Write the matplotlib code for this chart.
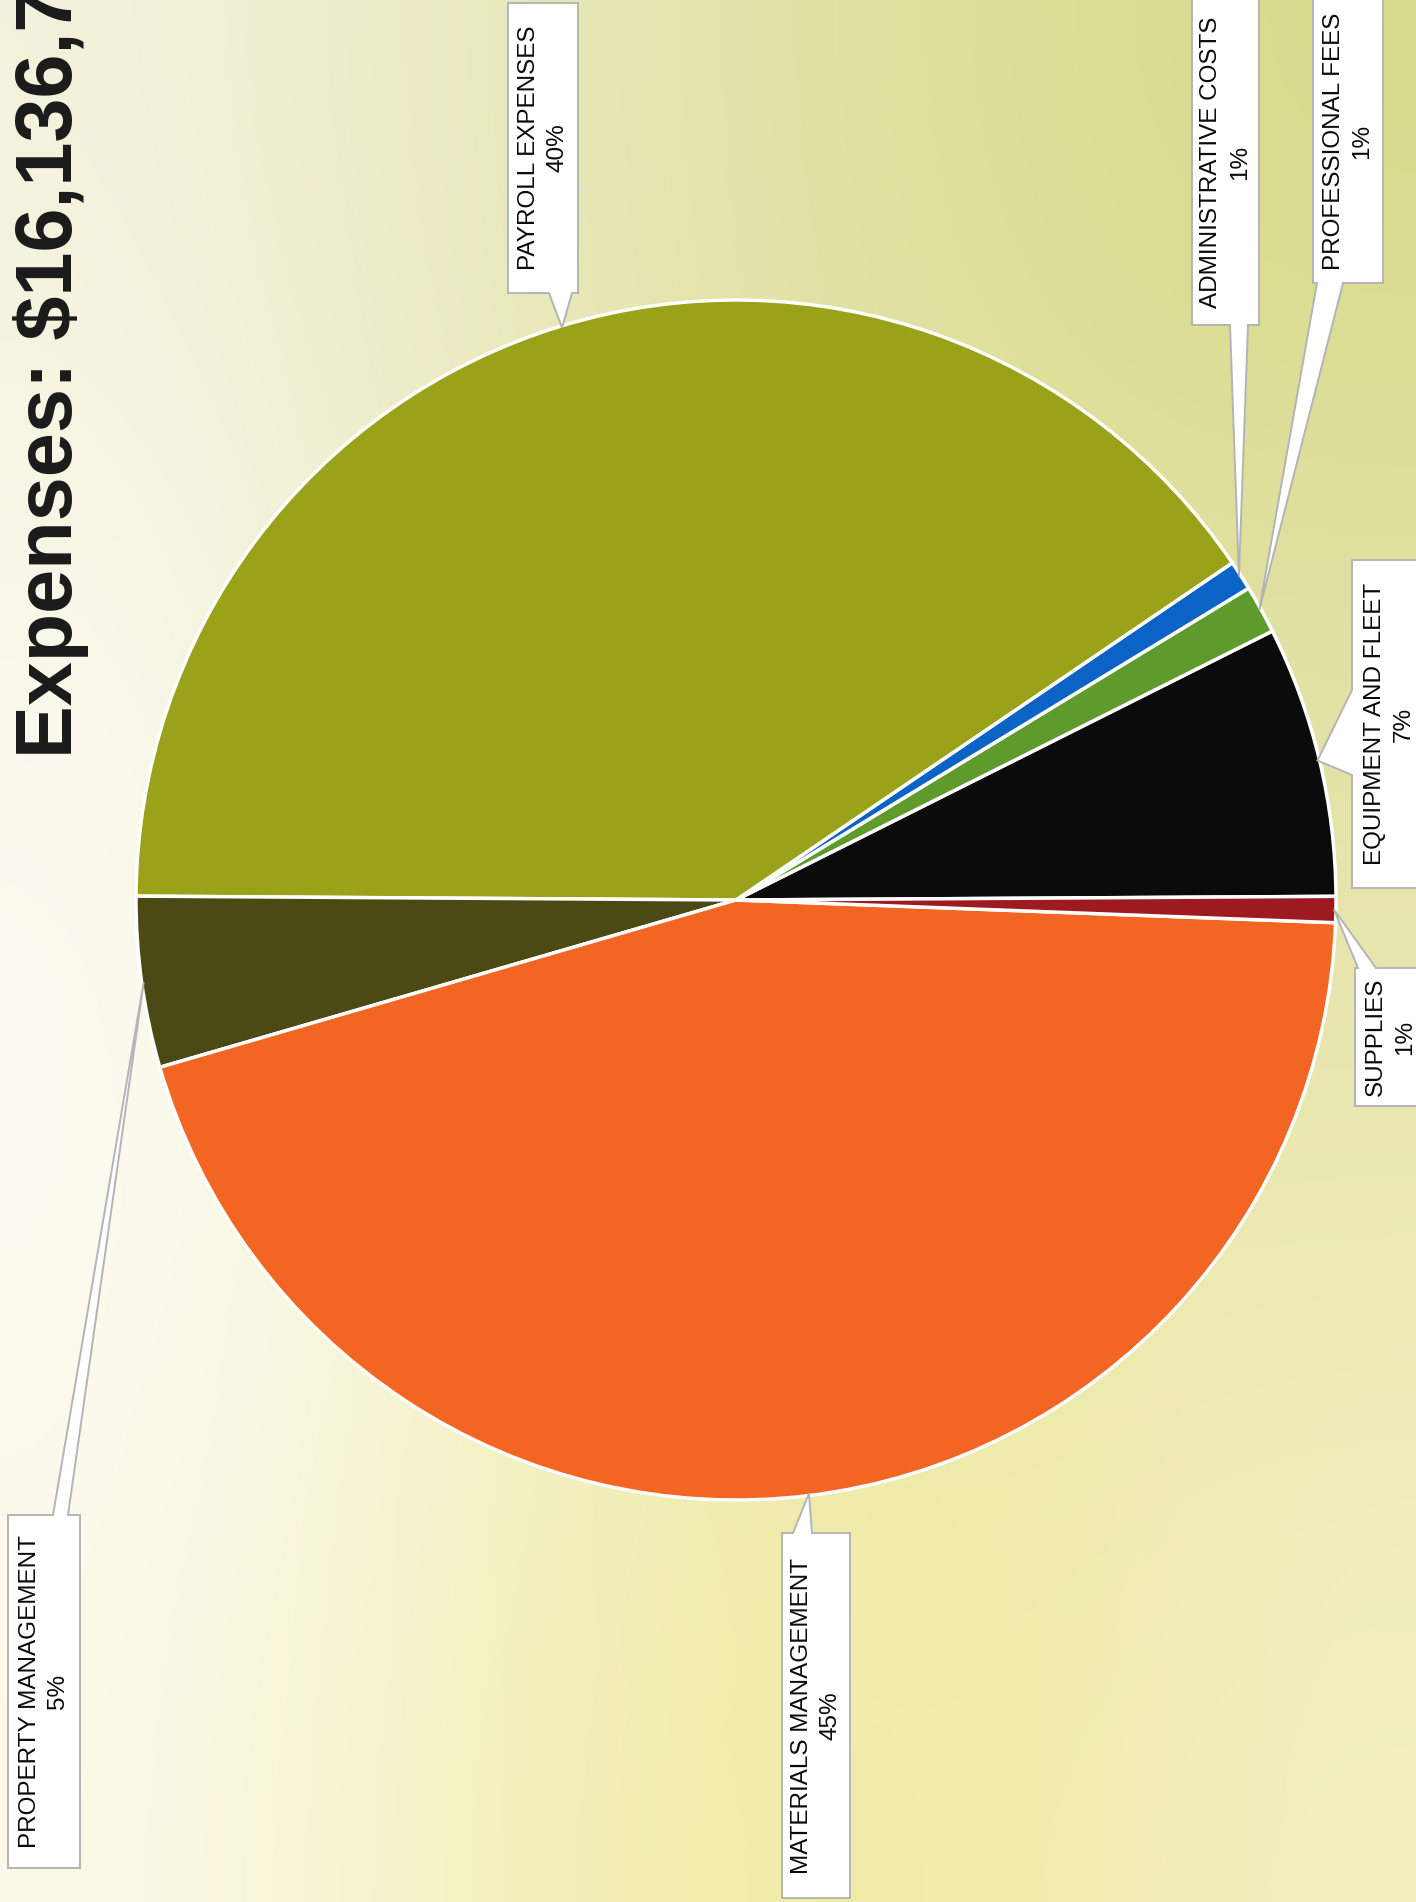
import numpy as np
import matplotlib
matplotlib.use("Agg")
import matplotlib.pyplot as plt
from matplotlib.colors import to_rgb
from matplotlib.patches import Polygon

W, H = 1416, 1902          # canvas in pixels (dpi 100)
CX, CY, R = 736, 900, 600  # pie centre / radius, pixel coords with y down

# ---- data: share of total expenses (%) ----
categories = ["EQUIPMENT AND FLEET", "PROFESSIONAL FEES", "ADMINISTRATIVE COSTS",
              "PAYROLL EXPENSES", "PROPERTY MANAGEMENT", "MATERIALS MANAGEMENT", "SUPPLIES"]
shares = [7.3, 1.3, 0.8, 40.4, 4.6, 44.9, 0.7]
colors = ["#0c0b0b", "#5f9a2c", "#0b63c6", "#99a219", "#4b4a14", "#f26522", "#9d1b20"]
title = "Expenses: $16,136,7"

# callout boxes: (x0, y0, x1, y1, side the pointer leaves from, pointer base a, b)
boxes = {
    "PAYROLL EXPENSES":     (508, 3, 578, 293, "bottom", 549, 572),
    "ADMINISTRATIVE COSTS": (1192, -5, 1259, 325, "bottom", 1230, 1248),
    "PROFESSIONAL FEES":    (1313, -5, 1383, 283, "bottom", 1317, 1343),
    "EQUIPMENT AND FLEET":  (1352, 560, 1430, 888, "left", 690, 775),
    "SUPPLIES":             (1355, 968, 1430, 1106, "top", 1358, 1376),
    "MATERIALS MANAGEMENT": (782, 1533, 850, 1898, "top", 793, 812),
    "PROPERTY MANAGEMENT":  (8, 1515, 80, 1868, "top", 53, 68),
}

# backdrop colours sampled on a coarse grid (rows top -> bottom)
bg_rows = [
    ["#f4f2dc", "#ebeac4", "#e3e4aa", "#dcdf98", "#d7db8a"],
    ["#fbfaf0", "#efeecc", "#e5e5ae", "#e2e2a6", "#e3e3aa"],
    ["#fdfcf5", "#f6f4d8", "#edebb6", "#ebe8aa", "#ebe8b2"],
    ["#fbf9e8", "#f5f2c6", "#f1eda8", "#f0eca6", "#f4f0c2"],
]


def px(x, y):
    return x, H - y


fig = plt.figure(figsize=(W / 100, H / 100), dpi=100)
ax = fig.add_axes([0, 0, 1, 1])

grid = np.array([[to_rgb(c) for c in row] for row in bg_rows])
ax.imshow(grid, extent=(0, W, 0, H), interpolation="bicubic", aspect="auto", zorder=0)

wedges, _ = ax.pie(shares, colors=colors, startangle=0.35, counterclock=True,
                   center=px(CX, CY), radius=R, frame=True,
                   wedgeprops=dict(edgecolor="white", linewidth=2.5, zorder=2))
ax.set_xlim(0, W)
ax.set_ylim(0, H)
ax.axis("off")

for w, name, val in zip(wedges, categories, shares):
    mid = np.deg2rad((w.theta1 + w.theta2) / 2)
    tip = (CX + (R - 2) * np.cos(mid), CY - (R - 2) * np.sin(mid))
    x0, y0, x1, y1, side, a, b = boxes[name]
    if side == "bottom":
        pts = [(x0, y0), (x1, y0), (x1, y1), (b, y1), tip, (a, y1), (x0, y1)]
    elif side == "top":
        pts = [(x0, y0), (a, y0), tip, (b, y0), (x1, y0), (x1, y1), (x0, y1)]
    else:
        pts = [(x0, y0), (x1, y0), (x1, y1), (x0, y1), (x0, b), tip, (x0, a)]
    ax.add_patch(Polygon([px(*p) for p in pts], closed=True, facecolor="white",
                         edgecolor="#b4b4b4", lw=1.4, zorder=3))
    ax.text(*px((x0 + min(x1, W + 10)) / 2, (max(y0, 0) + y1) / 2),
            f"{name}\n{val:.0f}%", rotation=90, ha="center", va="center",
            multialignment="center", linespacing=1.4, fontsize=17.5,
            family="Liberation Sans", color="#0a0a0a", zorder=4)

ax.text(*px(72, 758), title, rotation=90, rotation_mode="anchor", ha="left",
        va="baseline", fontsize=57, fontweight="bold", family="Liberation Sans",
        color="#1a1a1a", zorder=4)

fig.savefig("out.png", dpi=100)
